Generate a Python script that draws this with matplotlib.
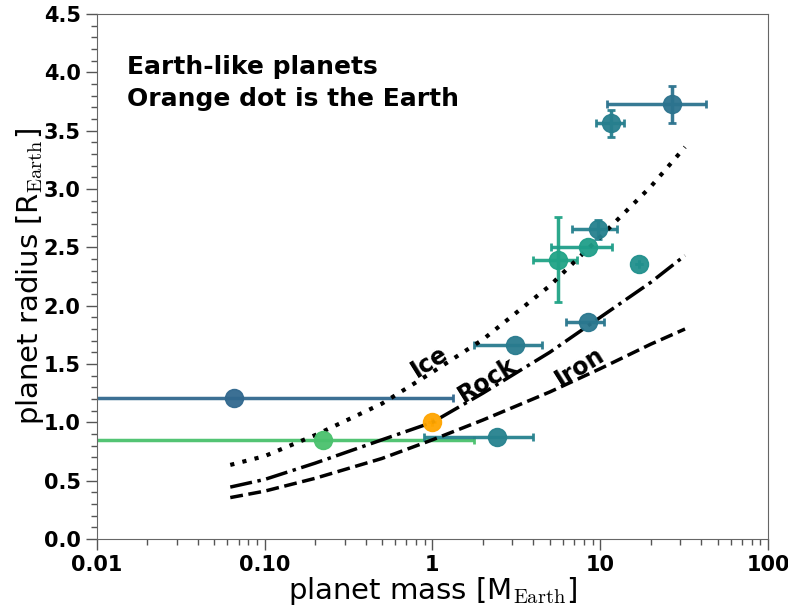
import numpy as np
import matplotlib
matplotlib.use("Agg")
import matplotlib.pyplot as plt

plt.rcParams['mathtext.fontset'] = 'cm'

# planets: mass and radius in Earth units, with error bounds
mass = [0.0658, 0.223, 1.0, 2.42, 3.11, 8.43, 17.1, 5.64, 8.40, 9.69, 11.56, 26.7]
mass_lo = [0.0004, 0.0004, 1.0, 0.896, 1.76, 6.23, 17.1, 3.96, 5.08, 6.83, 9.42, 10.9]
mass_hi = [1.33, 1.77, 1.0, 4.0, 4.49, 10.5, 17.1, 7.31, 11.8, 12.6, 13.9, 42.6]
radius = [1.21, 0.848, 1.0, 0.877, 1.66, 1.857, 2.354, 2.39, 2.505, 2.654, 3.562, 3.725]
radius_lo = [1.21, 0.848, 1.0, 0.877, 1.66, 1.857, 2.354, 2.03, 2.505, 2.574, 3.442, 3.562]
radius_hi = [1.21, 0.848, 1.0, 0.877, 1.66, 1.857, 2.354, 2.76, 2.505, 2.734, 3.676, 3.885]
colors = ['#31688e', '#4ac16d', 'orange', '#26828e', '#297b8e', '#2a778e',
          '#21908d', '#20a386', '#1f9e89', '#26818e', '#277f8e', '#2c738e']

# composition models
model_mass = [0.0625, 0.1, 0.2, 0.5, 1, 2, 5, 10, 20, 32]
r_ice = [0.635, 0.71, 0.89, 1.16, 1.43, 1.71, 2.17, 2.59, 3.02, 3.36]
r_rock = [0.445, 0.51, 0.65, 0.85, 1.0, 1.25, 1.60, 1.90, 2.20, 2.43]
r_iron = [0.355, 0.41, 0.52, 0.69, 0.85, 1.02, 1.26, 1.46, 1.67, 1.80]

fig = plt.figure(figsize=(7.88, 6.10), dpi=100)
ax = fig.add_axes([0.1227, 0.1164, 0.852, 0.8606])

for i in range(len(mass)):
    xe = [[mass[i] - mass_lo[i]], [mass_hi[i] - mass[i]]]
    ye = [[radius[i] - radius_lo[i]], [radius_hi[i] - radius[i]]]
    ax.errorbar(mass[i], radius[i], xerr=xe, yerr=ye, fmt='o', color=colors[i],
                ms=13, elinewidth=2.5, capsize=3, capthick=2, ecolor=colors[i], alpha=0.95)

ax.plot(model_mass, r_ice, color='k', lw=3, ls=(0, (1, 2)))
ax.plot(model_mass, r_rock, color='k', lw=2.5, ls='-.')
ax.plot(model_mass, r_iron, color='k', lw=2.5, ls='--')

ax.text(0.969, 1.517, 'Ice', rotation=32, fontsize=17, fontweight='bold', ha='center', va='center')
ax.text(2.12, 1.362, 'Rock', rotation=32, fontsize=17, fontweight='bold', ha='center', va='center')
ax.text(7.59, 1.474, 'Iron', rotation=32, fontsize=17, fontweight='bold', ha='center', va='center')

ax.text(0.045, 0.922, 'Earth-like planets\nOrange dot is the Earth', transform=ax.transAxes,
        fontsize=18, fontweight='bold', va='top', linespacing=1.4)

ax.set_xscale('log')
ax.set_xlim(0.01, 100)
ax.set_ylim(0, 4.5)
ax.set_xticks([0.01, 0.1, 1, 10, 100])
ax.set_xticklabels(['0.01', '0.10', '1', '10', '100'])
ax.set_yticks(np.arange(0, 4.51, 0.5))
ax.set_yticklabels(['%.1f' % v for v in np.arange(0, 4.51, 0.5)])
ax.yaxis.set_minor_locator(matplotlib.ticker.MultipleLocator(0.1))
for lab in ax.get_xticklabels() + ax.get_yticklabels():
    lab.set_fontweight('bold')
ax.tick_params(which='major', labelsize=15, length=8, width=1, color='#555555')
ax.tick_params(which='minor', length=4, width=1, color='#555555')
for s in ax.spines.values():
    s.set_color('#666666')

ax.set_xlabel(r'planet mass [M$_{\mathrm{Earth}}$]', fontsize=21, labelpad=0)
ax.set_ylabel(r'planet radius [R$_{\mathrm{Earth}}$]', fontsize=21, labelpad=-2)

fig.savefig('out.png', dpi=100)
